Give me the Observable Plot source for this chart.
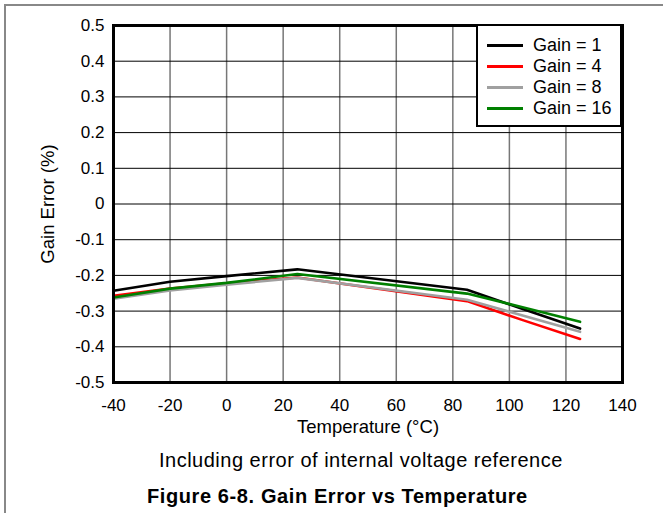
<!DOCTYPE html>
<html><head><meta charset="utf-8">
<script src="https://cdn.jsdelivr.net/npm/d3@7"></script>
<script src="https://cdn.jsdelivr.net/npm/@observablehq/plot@0.6"></script>
<style>
html,body{margin:0;padding:0;background:#fff;overflow:hidden;}
body{width:663px;height:513px;position:relative;font-family:"Liberation Sans",Arial,Helvetica,sans-serif;color:#000;}
#frame{position:absolute;left:4px;top:4px;width:700px;height:600px;border-left:2px solid #888;border-top:2px solid #888;}
#chart{position:absolute;left:0;top:0;}
#legend{position:absolute;left:476px;top:24px;width:146px;height:103px;border:2px solid #000;box-sizing:border-box;background:#fff;}
.row{position:absolute;left:0;height:21px;line-height:21px;font-size:18px;white-space:nowrap;}
.swatch{position:absolute;left:9px;top:9px;width:36px;height:3px;}
.lbl{position:absolute;left:55px;top:0;}
.cap{position:absolute;white-space:nowrap;font-size:20px;line-height:20px;}
</style>
</head><body>
<div id="frame"></div>
<div id="chart"></div>
<div id="legend"></div>
<div class="cap" id="caption" style="left:159px;top:450px;letter-spacing:0.5px;"></div>
<div class="cap" id="title" style="left:147px;top:486px;font-weight:bold;letter-spacing:0.6px;"></div>
<script>
const temps = [-40, -20, 0, 25, 85, 105, 125];
const gain1  = [-0.243, -0.218, -0.202, -0.183, -0.240, -0.295, -0.349];
const gain4  = [-0.257, -0.237, -0.222, -0.206, -0.272, -0.326, -0.378];
const gain8  = [-0.265, -0.242, -0.226, -0.207, -0.268, -0.313, -0.358];
const gain16 = [-0.262, -0.237, -0.221, -0.196, -0.251, -0.290, -0.330];
const seriesNames = ["Gain = 1", "Gain = 4", "Gain = 8", "Gain = 16"];
const seriesColors = ["#000000", "#ff0000", "#a0a0a0", "#008000"];
const xTicks = [-40, -20, 0, 20, 40, 60, 80, 100, 120, 140];
const yTicks = [-0.5, -0.4, -0.3, -0.2, -0.1, 0, 0.1, 0.2, 0.3, 0.4, 0.5];
const xTitle = "Temperature (°C)";
const yTitle = "Gain Error (%)";
const captionText = "Including error of internal voltage reference";
const figureTitle = "Figure 6-8. Gain Error vs Temperature";

const series = [gain1, gain4, gain8, gain16];
const rows = series.flatMap((vals, i) => temps.map((t, j) => ({t, v: vals[j], g: seriesNames[i]})));
const fmtY = d => d === 0 ? "0" : d.toFixed(1);

const chart = Plot.plot({
  width: 663,
  height: 440,
  marginTop: 25,
  marginBottom: 58,
  marginLeft: 113,
  marginRight: 41,
  style: {background: "transparent", fontSize: "17px", fontFamily: '"Liberation Sans", Arial, sans-serif', color: "#000", overflow: "visible"},
  x: {domain: [-40, 140]},
  y: {domain: [-0.5, 0.5]},
  color: {domain: seriesNames, range: seriesColors},
  marks: [
    Plot.gridX(xTicks, {stroke: "#777", strokeOpacity: 1, strokeWidth: 1.5}),
    Plot.gridY(yTicks, {stroke: "#000", strokeOpacity: 1, strokeWidth: 1}),
    Plot.line(rows, {x: "t", y: "v", z: "g", stroke: "g", strokeWidth: 2.6}),
    Plot.axisX(xTicks, {tickSize: 0, tickPadding: 16, tickFormat: d => String(d), label: null}),
    Plot.axisY(yTicks, {tickSize: 0, tickPadding: 9, tickFormat: fmtY, label: null}),
    Plot.frame({stroke: "#000", strokeWidth: 3}),
    Plot.text([xTitle], {text: d => d, frameAnchor: "bottom", lineAnchor: "middle", textAnchor: "middle", dy: 45, fontSize: 18.5}),
    Plot.text([yTitle], {text: d => d, frameAnchor: "left", lineAnchor: "middle", textAnchor: "middle", dx: -65, rotate: -90, fontSize: 18.5})
  ]
});
document.getElementById("chart").appendChild(chart);

const legend = document.getElementById("legend");
const rowCenters = [21, 42, 63, 84.5];
seriesNames.forEach((name, i) => {
  const r = document.createElement("div");
  r.className = "row";
  r.style.top = (rowCenters[i] - 10.5 - 2) + "px";
  const sw = document.createElement("div");
  sw.className = "swatch";
  sw.style.background = seriesColors[i];
  const lb = document.createElement("div");
  lb.className = "lbl";
  lb.textContent = name;
  r.appendChild(sw); r.appendChild(lb);
  legend.appendChild(r);
});
document.getElementById("caption").textContent = captionText;
document.getElementById("title").textContent = figureTitle;
</script>
</body></html>
